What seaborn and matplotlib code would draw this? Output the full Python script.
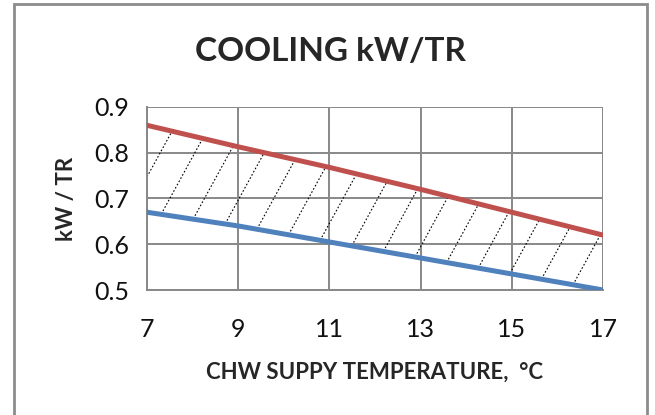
import numpy as np
import pandas as pd
import matplotlib
matplotlib.use("Agg")
import matplotlib.pyplot as plt
import seaborn as sns
from matplotlib.patches import Rectangle

# ---------------- data ----------------
chw_temp = [7, 9, 11, 13, 15, 17]
kw_tr_high = [0.86, 0.813, 0.768, 0.72, 0.67, 0.62]
kw_tr_low = [0.67, 0.64, 0.605, 0.57, 0.535, 0.50]

x_ticks = [7, 9, 11, 13, 15, 17]
y_ticks = [0.5, 0.6, 0.7, 0.8, 0.9]

RED = "#C0504D"
BLUE = "#4F81BD"
GRID = "#888888"

sns.set_style("white")
plt.rcParams["font.family"] = ["Lato", "DejaVu Sans"]

df = pd.DataFrame({"temp": chw_temp + chw_temp,
                   "kw": kw_tr_high + kw_tr_low,
                   "series": ["high"] * len(chw_temp) + ["low"] * len(chw_temp)})

fig = plt.figure(figsize=(6.55, 4.15), dpi=100)
ax = fig.add_axes([0.2244, 0.3012, 0.6962, 0.4410])

# dotted hatching between the two lines
t = np.linspace(0.5, 0.9, 800)
slope = 5.5
for c in np.arange(6.4 - 0.76 * 3, 17.5, 0.76):
    xs = c + (t - 0.5) * slope
    lo = np.interp(xs, chw_temp, kw_tr_low)
    hi = np.interp(xs, chw_temp, kw_tr_high)
    m = (xs >= 7) & (xs <= 17) & (t >= lo) & (t <= hi)
    if m.sum() > 1:
        ax.plot(xs[m], t[m], color="black", lw=0.8, ls=(0, (1.5, 1.8)), zorder=2)

sns.lineplot(data=df, x="temp", y="kw", hue="series", palette=[RED, BLUE],
             linewidth=3.6, legend=False, ax=ax, zorder=3)

ax.set_xlim(7, 17)
ax.set_ylim(0.5, 0.9)
ax.set_xticks(x_ticks)
ax.set_yticks(y_ticks)
ax.set_yticklabels([f"{v:.1f}" for v in y_ticks])
ax.grid(True, color=GRID, lw=1.4)
ax.set_axisbelow(True)
for s in ["top", "right"]:
    ax.spines[s].set_visible(False)
for s in ["left", "bottom"]:
    ax.spines[s].set_color(GRID)
    ax.spines[s].set_linewidth(1.4)
ax.tick_params(axis="both", length=7, width=1.4, color=GRID, labelsize=18,
               labelcolor="#111111", direction="out", pad=6)
ax.tick_params(axis="x", pad=13)

ax.set_xlabel("CHW SUPPY TEMPERATURE,  \u00b0C", fontsize=16, fontweight="bold", labelpad=15)
ax.set_ylabel("kW / TR", fontsize=16, fontweight="bold", labelpad=12)

fig.text(0.505, 0.875, "COOLING kW/TR", ha="center", va="center",
         fontsize=24, fontweight="bold")

fig.patches.append(Rectangle((14 / 655, -0.05), (647 - 14) / 655, 1.05 - 4 / 415,
                             transform=fig.transFigure, fill=False,
                             edgecolor="#8C8C8C", lw=2))

fig.savefig("out.png", dpi=100)
